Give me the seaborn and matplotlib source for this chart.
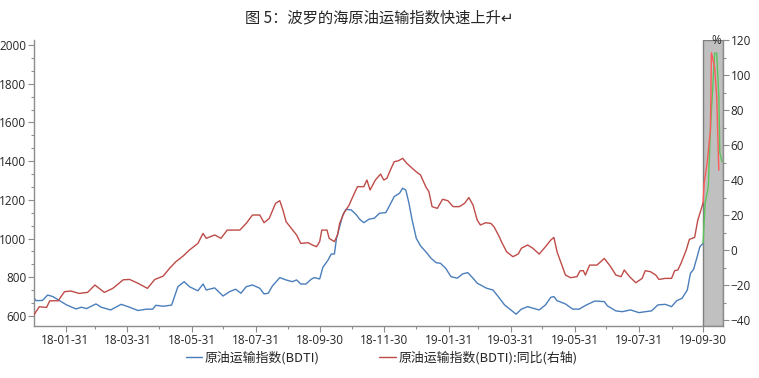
import matplotlib
matplotlib.use("Agg")
import numpy as np
import pandas as pd
import matplotlib.pyplot as plt
import matplotlib.dates as mdates
from matplotlib.ticker import MultipleLocator, AutoMinorLocator, FixedLocator
import seaborn as sns

# BDTI index (left axis)
bdti_dates = [
    "2018-01-01", "2018-01-03", "2018-01-09", "2018-01-14", "2018-01-19", "2018-01-25",
    "2018-02-01", "2018-02-10", "2018-02-15", "2018-02-20", "2018-03-01", "2018-03-06",
    "2018-03-15", "2018-03-25", "2018-04-02", "2018-04-10", "2018-04-18", "2018-04-24",
    "2018-04-27", "2018-05-04", "2018-05-12", "2018-05-18", "2018-05-24", "2018-05-29",
    "2018-06-06", "2018-06-11", "2018-06-14", "2018-06-22", "2018-06-30", "2018-07-06",
    "2018-07-12", "2018-07-17", "2018-07-22", "2018-07-28", "2018-08-04", "2018-08-08",
    "2018-08-12", "2018-08-16", "2018-08-23", "2018-08-29", "2018-09-04", "2018-09-08",
    "2018-09-12", "2018-09-17", "2018-09-22", "2018-09-25", "2018-09-30", "2018-10-03",
    "2018-10-08", "2018-10-11", "2018-10-14", "2018-10-16", "2018-10-19", "2018-10-22",
    "2018-10-25", "2018-10-30", "2018-11-04", "2018-11-07", "2018-11-11", "2018-11-16",
    "2018-11-21", "2018-11-26", "2018-12-02", "2018-12-05", "2018-12-10", "2018-12-15",
    "2018-12-18", "2018-12-21", "2018-12-24", "2018-12-27", "2018-12-31", "2019-01-04",
    "2019-01-09", "2019-01-14", "2019-01-19", "2019-01-23", "2019-01-28", "2019-02-02",
    "2019-02-08", "2019-02-13", "2019-02-18", "2019-02-23", "2019-02-27", "2019-03-08",
    "2019-03-14", "2019-03-19", "2019-03-25", "2019-03-31", "2019-04-05", "2019-04-10",
    "2019-04-16", "2019-04-21", "2019-04-27", "2019-05-03", "2019-05-08", "2019-05-11",
    "2019-05-14", "2019-05-22", "2019-05-29", "2019-06-04", "2019-06-11", "2019-06-19",
    "2019-06-28", "2019-07-01", "2019-07-09", "2019-07-15", "2019-07-23", "2019-07-31",
    "2019-08-06", "2019-08-12", "2019-08-18", "2019-08-25", "2019-08-31", "2019-09-05",
    "2019-09-10", "2019-09-15", "2019-09-18", "2019-09-21", "2019-09-24", "2019-09-27",
    "2019-09-30",
]
bdti_values = [
    693, 679, 680, 708, 700, 680,
    657, 636, 645, 638, 662, 645,
    631, 660, 645, 628, 635, 635,
    655, 650, 656, 751, 777, 751,
    730, 765, 734, 745, 703, 725,
    738, 717, 751, 760, 743, 714,
    717, 755, 798, 786, 777, 786,
    765, 765, 790, 798, 791, 851,
    889, 920, 920, 1001, 1061, 1122,
    1151, 1148, 1122, 1100, 1082, 1100,
    1105, 1131, 1134, 1165, 1217, 1234,
    1260, 1251, 1182, 1096, 1001, 962,
    932, 898, 875, 872, 846, 803,
    795, 817, 824, 795, 769, 743,
    734, 700, 657, 631, 609, 635,
    648, 640, 631, 657, 696, 700,
    679, 662, 635, 635, 657, 677,
    674, 652, 626, 622, 631, 617,
    622, 626, 657, 660, 648, 679,
    691, 734, 820, 841, 898, 958,
    975,
]

# BDTI year-on-year change, % (right axis)
yoy_dates = [
    "2018-01-01", "2018-01-06", "2018-01-13", "2018-01-16", "2018-01-24", "2018-01-30",
    "2018-02-05", "2018-02-13", "2018-02-21", "2018-02-28", "2018-03-09", "2018-03-17",
    "2018-03-27", "2018-04-02", "2018-04-10", "2018-04-19", "2018-04-26", "2018-05-04",
    "2018-05-10", "2018-05-16", "2018-05-23", "2018-05-29", "2018-06-06", "2018-06-11",
    "2018-06-14", "2018-06-22", "2018-06-28", "2018-07-04", "2018-07-16", "2018-07-22",
    "2018-07-28", "2018-08-04", "2018-08-08", "2018-08-13", "2018-08-19", "2018-08-23",
    "2018-08-26", "2018-08-29", "2018-09-03", "2018-09-08", "2018-09-12", "2018-09-19",
    "2018-09-23", "2018-09-27", "2018-09-30", "2018-10-02", "2018-10-07", "2018-10-09",
    "2018-10-14", "2018-10-17", "2018-10-19", "2018-10-23", "2018-10-28", "2018-11-02",
    "2018-11-05", "2018-11-11", "2018-11-14", "2018-11-17", "2018-11-22", "2018-11-27",
    "2018-11-30", "2018-12-03", "2018-12-06", "2018-12-10", "2018-12-14", "2018-12-18",
    "2018-12-22", "2018-12-29", "2019-01-01", "2019-01-04", "2019-01-09", "2019-01-12",
    "2019-01-15", "2019-01-20", "2019-01-25", "2019-01-30", "2019-02-04", "2019-02-10",
    "2019-02-15", "2019-02-19", "2019-02-23", "2019-02-27", "2019-03-02", "2019-03-07",
    "2019-03-12", "2019-03-15", "2019-03-20", "2019-03-22", "2019-03-27", "2019-04-02",
    "2019-04-07", "2019-04-10", "2019-04-16", "2019-04-21", "2019-04-27", "2019-05-03",
    "2019-05-08", "2019-05-11", "2019-05-14", "2019-05-18", "2019-05-22", "2019-05-27",
    "2019-06-02", "2019-06-05", "2019-06-08", "2019-06-10", "2019-06-14", "2019-06-21",
    "2019-06-28", "2019-07-04", "2019-07-09", "2019-07-14", "2019-07-17", "2019-07-22",
    "2019-07-28", "2019-08-03", "2019-08-06", "2019-08-11", "2019-08-16", "2019-08-19",
    "2019-08-25", "2019-08-31", "2019-09-03", "2019-09-06", "2019-09-09", "2019-09-14",
    "2019-09-17", "2019-09-22", "2019-09-25", "2019-09-29", "2019-09-30",
]
yoy_values = [
    -37, -32.4, -32.8, -29, -29, -23.8,
    -23.4, -24.8, -24.2, -20, -24.2, -21.9,
    -17, -16.8, -19, -21.9, -16.8, -14.9,
    -10.5, -6.7, -3.4, 0, 3.8, 9.5,
    6.7, 8.6, 6.7, 11.4, 11.4, 15.2,
    20, 20, 15.6, 18.1, 26.7, 28.2,
    22.9, 16.2, 12.4, 8.6, 3.8, 4.2,
    2.9, 1.9, 4.8, 11.4, 11.4, 6.7,
    4.8, 8.6, 15.2, 21, 25.7, 32.4,
    36.2, 36.2, 40, 34.3, 40, 43.4,
    40, 41, 45.3, 50.5, 51, 52.4,
    49.5, 45.7, 44.2, 42.9, 36.2, 33.3,
    24.8, 23.8, 29, 28.2, 24.8, 24.8,
    26.7, 30, 25.7, 17.1, 14.3, 15.6,
    15.2, 13.3, 7.6, 4.8, -1, -3.8,
    -2.3, 1, 2.9, 1, -2.3, 1.9,
    5.7, 7.2, -1, -7.6, -14.3, -15.8,
    -15.2, -11.8, -11.8, -14.3, -8.6, -8.6,
    -4.8, -9.5, -14.3, -15.2, -11.4, -15.2,
    -18.7, -16.2, -11.8, -12.4, -14.3, -16.8,
    -16.2, -16.2, -11.8, -11.4, -7.6, 0,
    6.1, 7.2, 17.1, 24.8, 27,
]

# latest weeks, drawn inside the shaded block
bdti_ext_dates = ["2019-09-30", "2019-10-02", "2019-10-05", "2019-10-07", "2019-10-11",
                  "2019-10-13", "2019-10-15", "2019-10-16", "2019-10-18"]
bdti_ext_values = [975, 1182, 1268, 1560, 1958, 1958, 1736, 1443, 1397]
yoy_ext_dates = ["2019-09-30", "2019-10-01", "2019-10-04", "2019-10-07", "2019-10-08",
                 "2019-10-11", "2019-10-13", "2019-10-15"]
yoy_ext_values = [27, 38, 50, 68.6, 112.6, 104.8, 87.6, 45.7]

major_ticks = ["2018-01-31", "2018-03-31", "2018-05-31", "2018-07-31", "2018-09-30",
               "2018-11-30", "2019-01-31", "2019-03-31", "2019-05-31", "2019-07-31",
               "2019-09-30"]
minor_ticks = ["2018-02-28", "2018-04-30", "2018-06-30", "2018-08-31", "2018-10-31",
               "2018-12-31", "2019-02-28", "2019-04-30", "2019-06-30", "2019-08-31"]

title = "图 5：波罗的海原油运输指数快速上升↵"
label_bdti = "原油运输指数(BDTI)"
label_yoy = "原油运输指数(BDTI):同比(右轴)"

df_bdti = pd.DataFrame({"date": pd.to_datetime(bdti_dates), "value": bdti_values})
df_yoy = pd.DataFrame({"date": pd.to_datetime(yoy_dates), "value": yoy_values})
df_bdti_ext = pd.DataFrame({"date": pd.to_datetime(bdti_ext_dates), "value": bdti_ext_values})
df_yoy_ext = pd.DataFrame({"date": pd.to_datetime(yoy_ext_dates), "value": yoy_ext_values})

sns.set_style("ticks")
plt.rcParams["font.family"] = ["Noto Sans CJK SC", "DejaVu Sans"]

blue = "#4a7ebb"
red = "#be4b48"
spine_gray = "#8c8c8c"

fig = plt.figure(figsize=(7.59, 3.78), dpi=100)
ax = fig.add_axes([34 / 759, 1 - 326 / 378, 689 / 759, 286 / 378])
ax2 = ax.twinx()

# shaded block for the latest data
ax.axvspan(pd.Timestamp("2019-09-30"), pd.Timestamp("2019-10-19"),
           facecolor="#c0c0c0", edgecolor="#7f7f7f", linewidth=1.0, zorder=0)

sns.lineplot(data=df_bdti, x="date", y="value", ax=ax, color=blue, linewidth=1.0)
sns.lineplot(data=df_bdti_ext, x="date", y="value", ax=ax, color="#5cc45c", linewidth=1.0)
sns.lineplot(data=df_yoy, x="date", y="value", ax=ax2, color=red, linewidth=1.0)
sns.lineplot(data=df_yoy_ext, x="date", y="value", ax=ax2, color="#ff5a5a", linewidth=1.0)

ax.set_xlim(pd.Timestamp("2018-01-01"), pd.Timestamp("2019-10-19"))
ax.set_ylim(548, 2026)
ax2.set_ylim(-43.4, 120)

ax.xaxis.set_major_locator(FixedLocator(mdates.date2num(pd.to_datetime(major_ticks))))
ax.xaxis.set_minor_locator(FixedLocator(mdates.date2num(pd.to_datetime(minor_ticks))))
ax.xaxis.set_major_formatter(mdates.DateFormatter("%y-%m-%d"))
ax.yaxis.set_major_locator(MultipleLocator(200))
ax.yaxis.set_minor_locator(AutoMinorLocator(3))
ax2.yaxis.set_major_locator(MultipleLocator(20))
ax2.yaxis.set_minor_locator(AutoMinorLocator(2))

ax.set_xlabel("")
ax.set_ylabel("")
ax2.set_xlabel("")
ax2.set_ylabel("")

for a in (ax, ax2):
    a.spines["top"].set_visible(False)
    for s in ("left", "bottom", "right"):
        a.spines[s].set_color(spine_gray)
        a.spines[s].set_linewidth(1.0)
    a.tick_params(which="major", length=4, width=0.8, color=spine_gray,
                  labelsize=8.5, pad=1.5)
    a.tick_params(which="minor", length=2.5, width=0.8, color=spine_gray)
ax.spines["right"].set_visible(False)
ax2.spines["left"].set_visible(False)
ax2.spines["bottom"].set_visible(False)

for lab in ax.get_xticklabels() + ax.get_yticklabels() + ax2.get_yticklabels():
    lab.set_fontfamily(["Open Sans", "DejaVu Sans"])

ax2.text(0.998, 1.0, "%", transform=ax2.transAxes, ha="right", va="center",
         fontsize=8.5, family=["Open Sans", "DejaVu Sans"])

fig.text(0.5, 1 - 18 / 378, title, ha="center", va="center", fontsize=11,
         family=["Noto Sans CJK SC", "DejaVu Sans"])

for a in (ax, ax2):
    if a.get_legend() is not None:
        a.get_legend().remove()

handles = [ax.lines[0], ax2.lines[0]]
fig.legend(handles, [label_bdti, label_yoy], loc="center",
           bbox_to_anchor=(0.503, 1 - 358 / 378), ncol=2, frameon=False,
           fontsize=9.3, handlelength=1.3, handletextpad=0.2, columnspacing=4.6)

fig.savefig("out.png", dpi=100)
plt.close()
